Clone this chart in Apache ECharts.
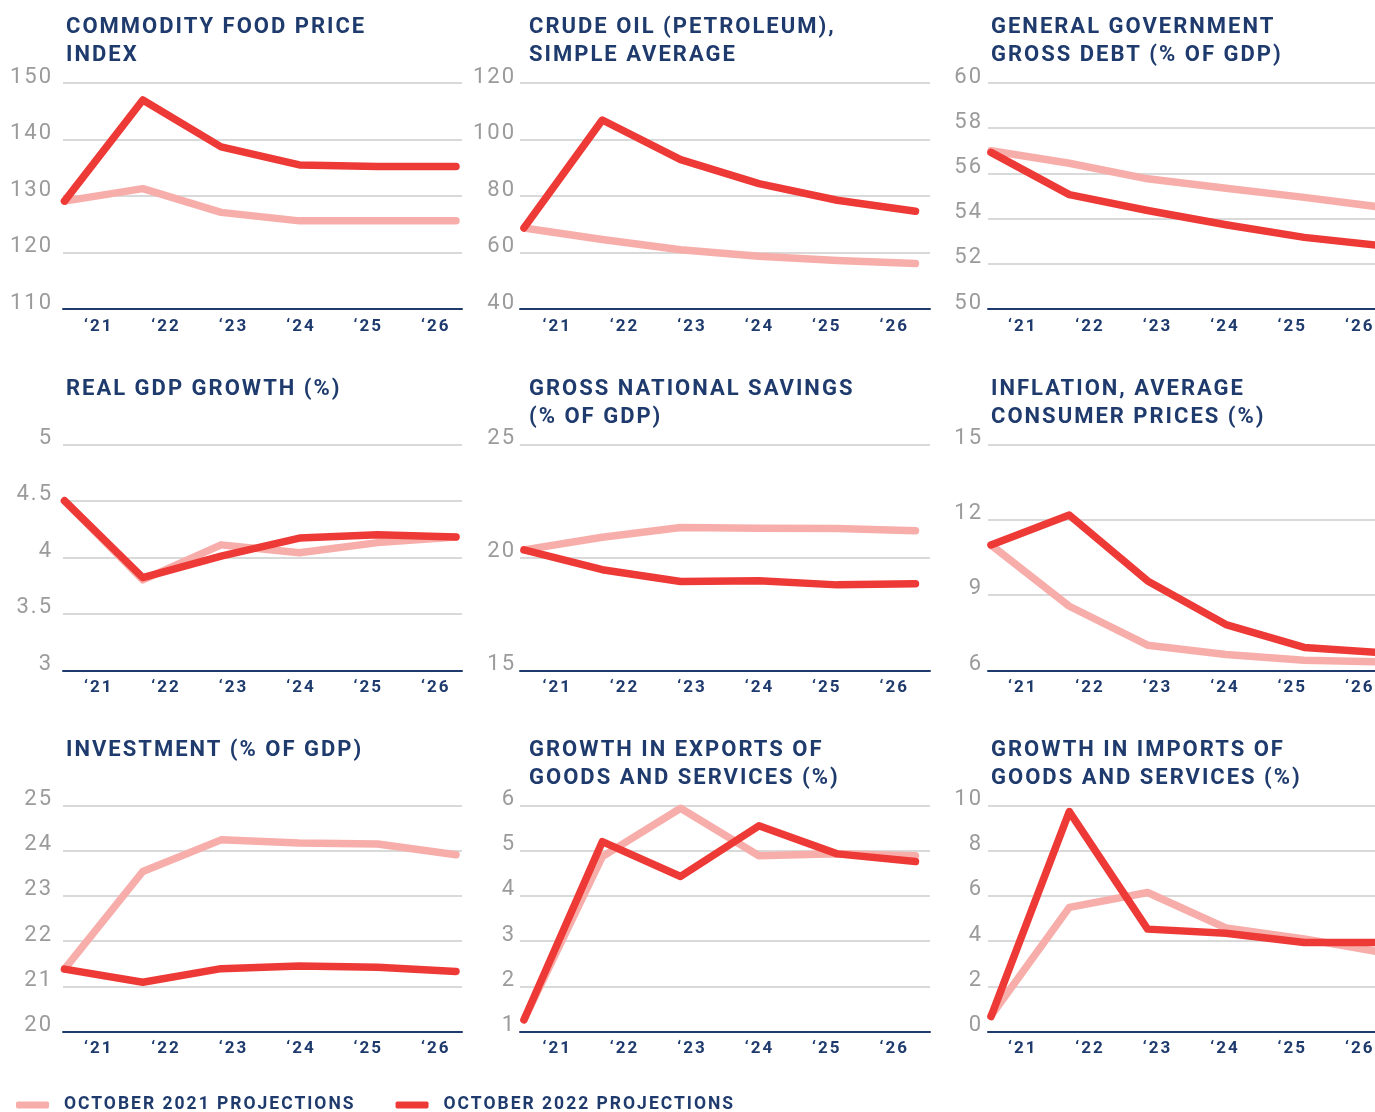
<!DOCTYPE html>
<html>
<head>
<meta charset="utf-8">
<script src="https://cdn.jsdelivr.net/npm/echarts@6/dist/echarts.min.js"></script>
<style>
html, body { margin: 0; padding: 0; background: #fff; }
#main { width: 1375px; height: 1112px; }
</style>
</head>
<body>
<div id="main"></div>
<script>
// chart values
const years = ['‘21', '‘22', '‘23', '‘24', '‘25', '‘26']

const foodPrice2021 = [129.1, 131.3, 127.1, 125.6, 125.6, 125.6]
const foodPrice2022 = [129.1, 147.0, 138.7, 135.5, 135.2, 135.2]
const crudeOil2021 = [68.7, 64.6, 61.0, 58.7, 57.2, 56.1]
const crudeOil2022 = [68.7, 106.9, 92.9, 84.4, 78.5, 74.6]
const govDebt2021 = [57.0, 56.45, 55.76, 55.34, 54.94, 54.5]
const govDebt2022 = [56.93, 55.06, 54.36, 53.73, 53.17, 52.8]
const gdpGrowth2021 = [4.5, 3.8, 4.11, 4.04, 4.13, 4.18]
const gdpGrowth2022 = [4.5, 3.82, 4.01, 4.17, 4.2, 4.18]
const savings2021 = [20.33, 20.89, 21.32, 21.29, 21.27, 21.18]
const savings2022 = [20.33, 19.45, 18.93, 18.96, 18.78, 18.83]
const inflation2021 = [10.99, 8.55, 7.0, 6.63, 6.4, 6.33]
const inflation2022 = [10.99, 12.18, 9.56, 7.82, 6.91, 6.7]
const investment2021 = [21.38, 23.54, 24.24, 24.17, 24.15, 23.91]
const investment2022 = [21.38, 21.09, 21.39, 21.45, 21.42, 21.33]
const exports2021 = [1.26, 4.87, 5.94, 4.89, 4.93, 4.89]
const exports2022 = [1.26, 5.2, 4.43, 5.55, 4.93, 4.76]
const imports2021 = [0.7, 5.49, 6.15, 4.58, 4.1, 3.5]
const imports2022 = [0.66, 9.73, 4.53, 4.35, 3.94, 3.94]

const titles = [
  'COMMODITY FOOD PRICE\nINDEX',
  'CRUDE OIL (PETROLEUM),\nSIMPLE AVERAGE',
  'GENERAL GOVERNMENT\nGROSS DEBT (% OF GDP)',
  'REAL GDP GROWTH (%)',
  'GROSS NATIONAL SAVINGS\n(% OF GDP)',
  'INFLATION, AVERAGE\nCONSUMER PRICES (%)',
  'INVESTMENT (% OF GDP)',
  'GROWTH IN EXPORTS OF\nGOODS AND SERVICES (%)',
  'GROWTH IN IMPORTS OF\nGOODS AND SERVICES (%)'
]
const yMins = [110, 40, 50, 3, 15, 6, 20, 1, 0]
const yMaxs = [150, 120, 60, 5, 25, 15, 25, 6, 10]
const ySteps = [10, 20, 2, 0.5, 5, 3, 1, 1, 2]

const series2021 = [foodPrice2021, crudeOil2021, govDebt2021, gdpGrowth2021, savings2021,
  inflation2021, investment2021, exports2021, imports2021]
const series2022 = [foodPrice2022, crudeOil2022, govDebt2022, gdpGrowth2022, savings2022,
  inflation2022, investment2022, exports2022, imports2022]

const NAME_2021 = 'OCTOBER 2021 PROJECTIONS'
const NAME_2022 = 'OCTOBER 2022 PROJECTIONS'

const NAVY = '#1f3b6d'
const RED = '#ee3a37'
const PINK = '#f7aeaa'
const GREY_TEXT = '#9b9b9b'
const GRID_LINE = '#cccccc'

// layout of the 3x3 panels (pixels)
const colLeft = [63, 520, 988]
const colRight = [462, 930, 1392]
const pointStart = [64.5, 524, 991]
const pointStep = 78.3
const labelLeft = [65, 523.5, 989]
const labelWidth = 404.4
const yLabelRight = [53, 516, 983]
const titleLeft = [66, 529, 991]
const rowTop = [83, 444.3, 805.5]
const rowHeight = 226
const titleTop = [13, 375, 736]

// the reference sets its type with wide tracking
const ctxProto = CanvasRenderingContext2D.prototype
const origFillText = ctxProto.fillText
const origMeasureText = ctxProto.measureText
ctxProto.fillText = function () {
  this.letterSpacing = '2px'
  return origFillText.apply(this, arguments)
}
ctxProto.measureText = function () {
  this.letterSpacing = '2px'
  return origMeasureText.apply(this, arguments)
}

let chart = echarts.init(document.getElementById('main'))

let title = [], grid = [], xAxis = [], yAxis = [], series = []

for (let i = 0; i < 9; i++) {
  let col = i % 3
  let row = Math.floor(i / 3)

  title.push({
    text: titles[i],
    left: titleLeft[col],
    top: titleTop[row],
    padding: 0,
    textStyle: {
      color: NAVY,
      fontFamily: 'Roboto',
      fontWeight: 'bold',
      fontSize: 22,
      lineHeight: 28
    }
  })

  // plot grid
  let g = grid.length
  grid.push({
    left: colLeft[col],
    width: colRight[col] - colLeft[col],
    top: rowTop[row],
    height: rowHeight,
    outerBoundsMode: 'none'
  })
  xAxis.push({
    gridIndex: g,
    type: 'value',
    min: (colLeft[col] - pointStart[col]) / pointStep,
    max: (colRight[col] - pointStart[col]) / pointStep,
    axisLine: { show: true, onZero: false, lineStyle: { color: NAVY, width: 2 } },
    axisTick: { show: false },
    axisLabel: { show: false },
    splitLine: { show: false }
  })
  yAxis.push({
    gridIndex: g,
    type: 'value',
    min: yMins[i],
    max: yMaxs[i],
    interval: ySteps[i],
    axisLine: { show: false },
    axisTick: { show: false },
    axisLabel: {
      color: GREY_TEXT,
      fontFamily: 'Roboto',
      fontSize: 22,
      margin: colLeft[col] - yLabelRight[col],
      verticalAlign: 'bottom',
      lineHeight: 12
    },
    splitLine: { lineStyle: { color: GRID_LINE, width: 1.5 } }
  })

  series.push({
    name: NAME_2021,
    type: 'line',
    xAxisIndex: g,
    yAxisIndex: g,
    data: series2021[i].map((v, k) => [k, v]),
    showSymbol: false,
    clip: false,
    silent: true,
    itemStyle: { color: PINK },
    lineStyle: { color: PINK, width: 7.5, cap: 'round', join: 'round' }
  })
  series.push({
    name: NAME_2022,
    type: 'line',
    xAxisIndex: g,
    yAxisIndex: g,
    data: series2022[i].map((v, k) => [k, v]),
    showSymbol: false,
    clip: false,
    silent: true,
    itemStyle: { color: RED },
    lineStyle: { color: RED, width: 7.5, cap: 'round', join: 'round' }
  })

  // year labels sit on their own band axis, offset from the data points
  let h = grid.length
  grid.push({
    left: labelLeft[col],
    width: labelWidth,
    top: rowTop[row],
    height: rowHeight,
    outerBoundsMode: 'none'
  })
  xAxis.push({
    gridIndex: h,
    type: 'category',
    boundaryGap: true,
    data: years,
    axisLine: { show: false },
    axisTick: { show: false },
    axisLabel: {
      color: NAVY,
      fontFamily: 'Roboto',
      fontWeight: 'bold',
      fontSize: 17,
      margin: 8
    }
  })
  yAxis.push({ gridIndex: h, type: 'value', show: false })
}

let chartOpt = {
  animation: false,
  title: title,
  grid: grid,
  xAxis: xAxis,
  yAxis: yAxis,
  legend: {
    data: [NAME_2021, NAME_2022],
    left: 16,
    top: 1095,
    padding: 0,
    icon: 'roundRect',
    itemWidth: 33,
    itemHeight: 7,
    itemGap: 40,
    selectedMode: false,
    itemStyle: { borderWidth: 0 },
    textStyle: {
      color: NAVY,
      fontFamily: 'Roboto',
      fontWeight: 'bold',
      fontSize: 17.5,
      padding: [0, 0, 0, 10]
    }
  },
  series: series
}

chart.setOption(chartOpt)
</script>
</body>
</html>
